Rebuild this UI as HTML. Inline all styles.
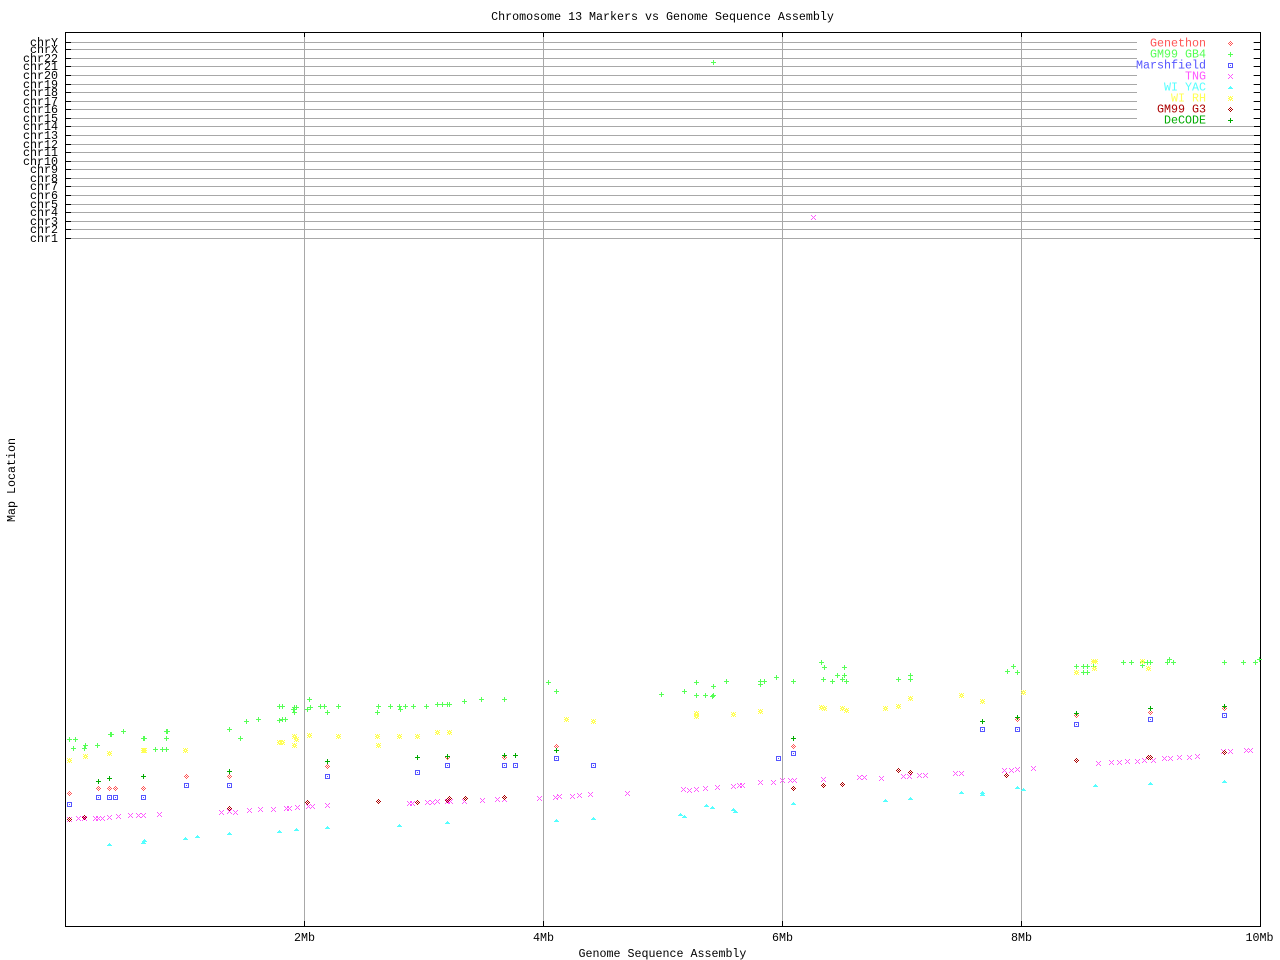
<!DOCTYPE html>
<html><head><meta charset="utf-8"><style>
html,body{margin:0;padding:0;background:#fff;width:1280px;height:960px;overflow:hidden}
svg{display:block}
text{font-family:"Liberation Mono","DejaVu Sans Mono",monospace;font-size:11.67px}
</style></head><body>
<svg width="1280" height="960" viewBox="0 0 1280 960" xmlns="http://www.w3.org/2000/svg" xmlns:xlink="http://www.w3.org/1999/xlink" shape-rendering="crispEdges">
<defs>
<g id="pl"><rect x="-2" y="0" width="5" height="1"/><rect x="0" y="-2" width="1" height="5"/></g>
<g id="xx"><rect x="-2" y="-2" width="1" height="1"/><rect x="-1" y="-1" width="1" height="1"/><rect x="0" y="0" width="1" height="1"/><rect x="1" y="1" width="1" height="1"/><rect x="2" y="2" width="1" height="1"/><rect x="2" y="-2" width="1" height="1"/><rect x="1" y="-1" width="1" height="1"/><rect x="-1" y="1" width="1" height="1"/><rect x="-2" y="2" width="1" height="1"/></g>
<g id="sq"><rect x="-2" y="-2" width="5" height="1"/><rect x="-2" y="2" width="5" height="1"/><rect x="-2" y="-1" width="1" height="3"/><rect x="2" y="-1" width="1" height="3"/><rect x="0" y="0" width="1" height="1"/></g>
<g id="dm"><rect x="0" y="-2" width="1" height="1"/><rect x="-1" y="-1" width="1" height="1"/><rect x="1" y="-1" width="1" height="1"/><rect x="-2" y="0" width="1" height="1"/><rect x="0" y="0" width="1" height="1"/><rect x="2" y="0" width="1" height="1"/><rect x="-1" y="1" width="1" height="1"/><rect x="1" y="1" width="1" height="1"/><rect x="0" y="2" width="1" height="1"/></g>
<g id="tr"><rect x="0" y="-1" width="1" height="1"/><rect x="-1" y="0" width="3" height="1"/><rect x="-2" y="1" width="5" height="1"/></g>
<g id="st"><rect x="-2" y="-2" width="1" height="1"/><rect x="0" y="-2" width="1" height="1"/><rect x="2" y="-2" width="1" height="1"/><rect x="-1" y="-1" width="3" height="1"/><rect x="-2" y="0" width="2" height="1"/><rect x="1" y="0" width="2" height="1"/><rect x="-1" y="1" width="3" height="1"/><rect x="-2" y="2" width="1" height="1"/><rect x="0" y="2" width="1" height="1"/><rect x="2" y="2" width="1" height="1"/></g>
</defs>

<!-- title -->
<text x="662.5" y="20" text-anchor="middle" fill="#000">Chromosome 13 Markers vs Genome Sequence Assembly</text>

<!-- horizontal grid -->
<g fill="#a8a8a8">
<rect x="66" y="42" width="1194" height="1"/><rect x="66" y="49" width="1194" height="1"/><rect x="66" y="58" width="1194" height="1"/><rect x="66" y="66" width="1194" height="1"/><rect x="66" y="75" width="1194" height="1"/><rect x="66" y="84" width="1194" height="1"/><rect x="66" y="92" width="1194" height="1"/><rect x="66" y="101" width="1194" height="1"/><rect x="66" y="109" width="1194" height="1"/><rect x="66" y="118" width="1194" height="1"/><rect x="66" y="126" width="1194" height="1"/><rect x="66" y="135" width="1194" height="1"/><rect x="66" y="144" width="1194" height="1"/><rect x="66" y="152" width="1194" height="1"/><rect x="66" y="161" width="1194" height="1"/><rect x="66" y="169" width="1194" height="1"/><rect x="66" y="178" width="1194" height="1"/><rect x="66" y="186" width="1194" height="1"/><rect x="66" y="195" width="1194" height="1"/><rect x="66" y="204" width="1194" height="1"/><rect x="66" y="212" width="1194" height="1"/><rect x="66" y="221" width="1194" height="1"/><rect x="66" y="229" width="1194" height="1"/><rect x="66" y="238" width="1194" height="1"/>
<!-- vertical grid -->
<rect x="304" y="33" width="1" height="893"/><rect x="543" y="33" width="1" height="893"/><rect x="782" y="33" width="1" height="893"/><rect x="1021" y="33" width="1" height="893"/>
</g>

<!-- legend box (white) -->
<rect x="1137" y="36" width="116" height="88" fill="#fff"/>

<!-- ticks -->
<g fill="#000">
<rect x="66" y="42" width="5" height="1"/><rect x="66" y="49" width="5" height="1"/><rect x="66" y="58" width="5" height="1"/><rect x="66" y="66" width="5" height="1"/><rect x="66" y="75" width="5" height="1"/><rect x="66" y="84" width="5" height="1"/><rect x="66" y="92" width="5" height="1"/><rect x="66" y="101" width="5" height="1"/><rect x="66" y="109" width="5" height="1"/><rect x="66" y="118" width="5" height="1"/><rect x="66" y="126" width="5" height="1"/><rect x="66" y="135" width="5" height="1"/><rect x="66" y="144" width="5" height="1"/><rect x="66" y="152" width="5" height="1"/><rect x="66" y="161" width="5" height="1"/><rect x="66" y="169" width="5" height="1"/><rect x="66" y="178" width="5" height="1"/><rect x="66" y="186" width="5" height="1"/><rect x="66" y="195" width="5" height="1"/><rect x="66" y="204" width="5" height="1"/><rect x="66" y="212" width="5" height="1"/><rect x="66" y="221" width="5" height="1"/><rect x="66" y="229" width="5" height="1"/><rect x="66" y="238" width="5" height="1"/>
<rect x="1254" y="42" width="6" height="1"/><rect x="1254" y="49" width="6" height="1"/><rect x="1254" y="58" width="6" height="1"/><rect x="1254" y="66" width="6" height="1"/><rect x="1254" y="75" width="6" height="1"/><rect x="1254" y="84" width="6" height="1"/><rect x="1254" y="92" width="6" height="1"/><rect x="1254" y="101" width="6" height="1"/><rect x="1254" y="109" width="6" height="1"/><rect x="1254" y="118" width="6" height="1"/><rect x="1254" y="126" width="6" height="1"/><rect x="1254" y="135" width="6" height="1"/><rect x="1254" y="144" width="6" height="1"/><rect x="1254" y="152" width="6" height="1"/><rect x="1254" y="161" width="6" height="1"/><rect x="1254" y="169" width="6" height="1"/><rect x="1254" y="178" width="6" height="1"/><rect x="1254" y="186" width="6" height="1"/><rect x="1254" y="195" width="6" height="1"/><rect x="1254" y="204" width="6" height="1"/><rect x="1254" y="212" width="6" height="1"/><rect x="1254" y="221" width="6" height="1"/><rect x="1254" y="229" width="6" height="1"/><rect x="1254" y="238" width="6" height="1"/>
<rect x="304" y="33" width="1" height="4"/><rect x="543" y="33" width="1" height="4"/><rect x="782" y="33" width="1" height="4"/><rect x="1021" y="33" width="1" height="4"/>
<rect x="304" y="921" width="1" height="5"/><rect x="543" y="921" width="1" height="5"/><rect x="782" y="921" width="1" height="5"/><rect x="1021" y="921" width="1" height="5"/>
<!-- frame -->
<rect x="65" y="32" width="1196" height="1"/><rect x="65" y="926" width="1196" height="1"/><rect x="65" y="32" width="1" height="895"/><rect x="1260" y="32" width="1" height="895"/>
</g>

<!-- y labels -->
<g fill="#000" text-anchor="end">
<text x="58" y="46">chrY</text><text x="58" y="53">chrX</text><text x="58" y="62">chr22</text><text x="58" y="70">chr21</text><text x="58" y="79">chr20</text><text x="58" y="88">chr19</text><text x="58" y="96">chr18</text><text x="58" y="105">chr17</text><text x="58" y="113">chr16</text><text x="58" y="122">chr15</text><text x="58" y="130">chr14</text><text x="58" y="139">chr13</text><text x="58" y="148">chr12</text><text x="58" y="156">chr11</text><text x="58" y="165">chr10</text><text x="58" y="173">chr9</text><text x="58" y="182">chr8</text><text x="58" y="190">chr7</text><text x="58" y="199">chr6</text><text x="58" y="208">chr5</text><text x="58" y="216">chr4</text><text x="58" y="225">chr3</text><text x="58" y="233">chr2</text><text x="58" y="242">chr1</text>
</g>

<!-- x labels -->
<g fill="#000" text-anchor="middle">
<text x="304.5" y="941">2Mb</text><text x="543.5" y="941">4Mb</text><text x="782.5" y="941">6Mb</text><text x="1021.5" y="941">8Mb</text><text x="1259.5" y="941">10Mb</text>
<text x="662.5" y="957">Genome Sequence Assembly</text>
</g>
<text transform="translate(15,480) rotate(-90)" text-anchor="middle" fill="#000">Map Location</text>

<!-- legend -->
<g text-anchor="end">
<text x="1206" y="46.5" fill="#ff5555">Genethon</text>
<text x="1206" y="57.5" fill="#55ff55">GM99 GB4</text>
<text x="1206" y="68.5" fill="#5555ff">Marshfield</text>
<text x="1206" y="79.5" fill="#ff55ff">TNG</text>
<text x="1206" y="90.5" fill="#55ffff">WI YAC</text>
<text x="1206" y="101.5" fill="#ffff55">WI RH</text>
<text x="1206" y="112.5" fill="#aa0000">GM99 G3</text>
<text x="1206" y="123.5" fill="#00aa00">DeCODE</text>
</g>
<use href="#dm" x="1230" y="43" fill="#ff5555"/>
<use href="#pl" x="1230" y="54" fill="#55ff55"/>
<use href="#sq" x="1230" y="65" fill="#5555ff"/>
<use href="#xx" x="1230" y="76" fill="#ff55ff"/>
<use href="#tr" x="1230" y="87" fill="#55ffff"/>
<use href="#st" x="1230" y="98" fill="#ffff55"/>
<use href="#dm" x="1230" y="109" fill="#aa0000"/>
<use href="#pl" x="1230" y="120" fill="#00aa00"/>

<!-- Genethon -->
<g fill="#ff5555">
<use href="#dm" x="69" y="793"/><use href="#dm" x="98" y="788"/><use href="#dm" x="109" y="788"/><use href="#dm" x="115" y="788"/><use href="#dm" x="143" y="788"/><use href="#dm" x="186" y="776"/><use href="#dm" x="229" y="776"/><use href="#dm" x="327" y="766"/><use href="#dm" x="447" y="757"/><use href="#dm" x="504" y="757"/><use href="#dm" x="556" y="746"/><use href="#dm" x="793" y="746"/><use href="#dm" x="1017" y="719"/><use href="#dm" x="1076" y="715"/><use href="#dm" x="1150" y="712"/><use href="#dm" x="1224" y="708"/>
</g>

<!-- GM99 GB4 -->
<g fill="#55ff55">
<use href="#pl" x="69" y="739"/><use href="#pl" x="75" y="739"/><use href="#pl" x="73" y="748"/><use href="#pl" x="84" y="748"/><use href="#pl" x="85" y="745"/><use href="#pl" x="97" y="745"/><use href="#pl" x="110" y="734"/><use href="#pl" x="111" y="734"/><use href="#pl" x="123" y="731"/><use href="#pl" x="143" y="738"/><use href="#pl" x="144" y="738"/><use href="#pl" x="166" y="731"/><use href="#pl" x="167" y="731"/><use href="#pl" x="166" y="738"/><use href="#pl" x="155" y="749"/><use href="#pl" x="162" y="749"/><use href="#pl" x="166" y="749"/><use href="#pl" x="229" y="729"/><use href="#pl" x="240" y="738"/><use href="#pl" x="246" y="721"/><use href="#pl" x="258" y="719"/><use href="#pl" x="279" y="706"/><use href="#pl" x="282" y="706"/><use href="#pl" x="279" y="720"/><use href="#pl" x="285" y="719"/><use href="#pl" x="282" y="719"/><use href="#pl" x="294" y="707"/><use href="#pl" x="296" y="707"/><use href="#pl" x="293" y="709"/><use href="#pl" x="294" y="712"/><use href="#pl" x="309" y="699"/><use href="#pl" x="310" y="707"/><use href="#pl" x="307" y="709"/><use href="#pl" x="320" y="706"/><use href="#pl" x="324" y="706"/><use href="#pl" x="327" y="712"/><use href="#pl" x="338" y="706"/><use href="#pl" x="378" y="706"/><use href="#pl" x="377" y="712"/><use href="#pl" x="390" y="706"/><use href="#pl" x="399" y="706"/><use href="#pl" x="400" y="709"/><use href="#pl" x="405" y="706"/><use href="#pl" x="413" y="706"/><use href="#pl" x="426" y="706"/><use href="#pl" x="437" y="704"/><use href="#pl" x="442" y="704"/><use href="#pl" x="447" y="704"/><use href="#pl" x="449" y="704"/><use href="#pl" x="464" y="701"/><use href="#pl" x="481" y="699"/><use href="#pl" x="504" y="699"/><use href="#pl" x="548" y="682"/><use href="#pl" x="556" y="691"/><use href="#pl" x="661" y="694"/><use href="#pl" x="684" y="691"/><use href="#pl" x="696" y="682"/><use href="#pl" x="696" y="695"/><use href="#pl" x="705" y="695"/><use href="#pl" x="713" y="686"/><use href="#pl" x="712" y="696"/><use href="#pl" x="713" y="695"/><use href="#pl" x="726" y="681"/><use href="#pl" x="760" y="681"/><use href="#pl" x="760" y="684"/><use href="#pl" x="764" y="681"/><use href="#pl" x="776" y="677"/><use href="#pl" x="793" y="681"/><use href="#pl" x="821" y="662"/><use href="#pl" x="824" y="667"/><use href="#pl" x="844" y="667"/><use href="#pl" x="837" y="675"/><use href="#pl" x="844" y="675"/><use href="#pl" x="823" y="679"/><use href="#pl" x="832" y="681"/><use href="#pl" x="842" y="679"/><use href="#pl" x="846" y="681"/><use href="#pl" x="898" y="679"/><use href="#pl" x="910" y="675"/><use href="#pl" x="910" y="679"/><use href="#pl" x="1013" y="666"/><use href="#pl" x="1007" y="671"/><use href="#pl" x="1017" y="672"/><use href="#pl" x="1076" y="666"/><use href="#pl" x="1083" y="666"/><use href="#pl" x="1087" y="666"/><use href="#pl" x="1093" y="666"/><use href="#pl" x="1083" y="672"/><use href="#pl" x="1087" y="672"/><use href="#pl" x="1123" y="662"/><use href="#pl" x="1131" y="662"/><use href="#pl" x="1142" y="662"/><use href="#pl" x="1142" y="665"/><use href="#pl" x="1147" y="662"/><use href="#pl" x="1150" y="662"/><use href="#pl" x="1169" y="659"/><use href="#pl" x="1167" y="662"/><use href="#pl" x="1173" y="662"/><use href="#pl" x="1224" y="662"/><use href="#pl" x="1243" y="662"/><use href="#pl" x="1255" y="662"/><use href="#pl" x="1259" y="659"/><use href="#pl" x="713" y="62"/>
</g>

<!-- Marshfield -->
<g fill="#5555ff">
<use href="#sq" x="69" y="804"/><use href="#sq" x="98" y="797"/><use href="#sq" x="109" y="797"/><use href="#sq" x="115" y="797"/><use href="#sq" x="143" y="797"/><use href="#sq" x="186" y="785"/><use href="#sq" x="229" y="785"/><use href="#sq" x="327" y="776"/><use href="#sq" x="417" y="772"/><use href="#sq" x="447" y="765"/><use href="#sq" x="504" y="765"/><use href="#sq" x="515" y="765"/><use href="#sq" x="556" y="758"/><use href="#sq" x="593" y="765"/><use href="#sq" x="778" y="758"/><use href="#sq" x="793" y="753"/><use href="#sq" x="982" y="729"/><use href="#sq" x="1017" y="729"/><use href="#sq" x="1076" y="724"/><use href="#sq" x="1150" y="719"/><use href="#sq" x="1224" y="715"/>
</g>

<!-- TNG -->
<g fill="#ff55ff">
<use href="#xx" x="69" y="819"/><use href="#xx" x="78" y="818"/><use href="#xx" x="84" y="818"/><use href="#xx" x="95" y="818"/><use href="#xx" x="98" y="818"/><use href="#xx" x="102" y="818"/><use href="#xx" x="109" y="817"/><use href="#xx" x="118" y="816"/><use href="#xx" x="130" y="815"/><use href="#xx" x="138" y="815"/><use href="#xx" x="143" y="815"/><use href="#xx" x="159" y="814"/><use href="#xx" x="221" y="812"/><use href="#xx" x="229" y="811"/><use href="#xx" x="235" y="812"/><use href="#xx" x="249" y="810"/><use href="#xx" x="260" y="809"/><use href="#xx" x="273" y="809"/><use href="#xx" x="286" y="808"/><use href="#xx" x="289" y="808"/><use href="#xx" x="297" y="807"/><use href="#xx" x="308" y="806"/><use href="#xx" x="312" y="806"/><use href="#xx" x="327" y="805"/><use href="#xx" x="409" y="803"/><use href="#xx" x="412" y="803"/><use href="#xx" x="427" y="802"/><use href="#xx" x="432" y="802"/><use href="#xx" x="437" y="801"/><use href="#xx" x="447" y="801"/><use href="#xx" x="450" y="801"/><use href="#xx" x="464" y="801"/><use href="#xx" x="482" y="800"/><use href="#xx" x="497" y="799"/><use href="#xx" x="504" y="799"/><use href="#xx" x="539" y="798"/><use href="#xx" x="555" y="797"/><use href="#xx" x="559" y="796"/><use href="#xx" x="572" y="796"/><use href="#xx" x="579" y="795"/><use href="#xx" x="590" y="794"/><use href="#xx" x="627" y="793"/><use href="#xx" x="683" y="789"/><use href="#xx" x="689" y="790"/><use href="#xx" x="696" y="789"/><use href="#xx" x="705" y="788"/><use href="#xx" x="717" y="787"/><use href="#xx" x="733" y="786"/><use href="#xx" x="739" y="785"/><use href="#xx" x="742" y="785"/><use href="#xx" x="760" y="782"/><use href="#xx" x="773" y="782"/><use href="#xx" x="782" y="780"/><use href="#xx" x="790" y="780"/><use href="#xx" x="794" y="780"/><use href="#xx" x="823" y="779"/><use href="#xx" x="859" y="777"/><use href="#xx" x="864" y="777"/><use href="#xx" x="881" y="778"/><use href="#xx" x="903" y="776"/><use href="#xx" x="909" y="776"/><use href="#xx" x="919" y="775"/><use href="#xx" x="925" y="775"/><use href="#xx" x="955" y="773"/><use href="#xx" x="961" y="773"/><use href="#xx" x="1004" y="770"/><use href="#xx" x="1011" y="770"/><use href="#xx" x="1017" y="769"/><use href="#xx" x="1033" y="768"/><use href="#xx" x="1098" y="763"/><use href="#xx" x="1111" y="762"/><use href="#xx" x="1119" y="762"/><use href="#xx" x="1127" y="761"/><use href="#xx" x="1137" y="761"/><use href="#xx" x="1144" y="760"/><use href="#xx" x="1153" y="760"/><use href="#xx" x="1164" y="758"/><use href="#xx" x="1170" y="758"/><use href="#xx" x="1179" y="757"/><use href="#xx" x="1189" y="757"/><use href="#xx" x="1197" y="756"/><use href="#xx" x="1223" y="751"/><use href="#xx" x="1230" y="751"/><use href="#xx" x="1246" y="750"/><use href="#xx" x="1250" y="750"/><use href="#xx" x="813" y="217"/>
</g>

<!-- WI YAC -->
<g fill="#55ffff">
<use href="#tr" x="109" y="844"/><use href="#tr" x="143" y="842"/><use href="#tr" x="144" y="840"/><use href="#tr" x="185" y="838"/><use href="#tr" x="197" y="836"/><use href="#tr" x="229" y="833"/><use href="#tr" x="279" y="831"/><use href="#tr" x="296" y="829"/><use href="#tr" x="327" y="827"/><use href="#tr" x="399" y="825"/><use href="#tr" x="447" y="822"/><use href="#tr" x="556" y="820"/><use href="#tr" x="593" y="818"/><use href="#tr" x="680" y="814"/><use href="#tr" x="684" y="816"/><use href="#tr" x="706" y="805"/><use href="#tr" x="712" y="807"/><use href="#tr" x="733" y="809"/><use href="#tr" x="735" y="811"/><use href="#tr" x="793" y="803"/><use href="#tr" x="885" y="800"/><use href="#tr" x="910" y="798"/><use href="#tr" x="961" y="792"/><use href="#tr" x="982" y="794"/><use href="#tr" x="982" y="792"/><use href="#tr" x="1017" y="787"/><use href="#tr" x="1023" y="789"/><use href="#tr" x="1095" y="785"/><use href="#tr" x="1150" y="783"/><use href="#tr" x="1224" y="781"/>
</g>

<!-- WI RH -->
<g fill="#ffff55">
<use href="#st" x="69" y="760"/><use href="#st" x="85" y="756"/><use href="#st" x="109" y="753"/><use href="#st" x="143" y="750"/><use href="#st" x="144" y="750"/><use href="#st" x="185" y="750"/><use href="#st" x="279" y="742"/><use href="#st" x="282" y="742"/><use href="#st" x="294" y="736"/><use href="#st" x="296" y="739"/><use href="#st" x="294" y="745"/><use href="#st" x="309" y="735"/><use href="#st" x="338" y="736"/><use href="#st" x="377" y="736"/><use href="#st" x="378" y="745"/><use href="#st" x="399" y="736"/><use href="#st" x="417" y="736"/><use href="#st" x="437" y="732"/><use href="#st" x="449" y="732"/><use href="#st" x="566" y="719"/><use href="#st" x="593" y="721"/><use href="#st" x="696" y="713"/><use href="#st" x="696" y="716"/><use href="#st" x="733" y="714"/><use href="#st" x="760" y="711"/><use href="#st" x="821" y="707"/><use href="#st" x="824" y="708"/><use href="#st" x="842" y="708"/><use href="#st" x="846" y="710"/><use href="#st" x="885" y="708"/><use href="#st" x="898" y="706"/><use href="#st" x="910" y="698"/><use href="#st" x="961" y="695"/><use href="#st" x="982" y="701"/><use href="#st" x="1023" y="692"/><use href="#st" x="1076" y="672"/><use href="#st" x="1093" y="661"/><use href="#st" x="1095" y="661"/><use href="#st" x="1094" y="668"/><use href="#st" x="1142" y="661"/><use href="#st" x="1148" y="668"/>
</g>

<!-- GM99 G3 -->
<g fill="#aa0000">
<use href="#dm" x="69" y="819"/><use href="#dm" x="84" y="817"/><use href="#dm" x="229" y="808"/><use href="#dm" x="307" y="802"/><use href="#dm" x="378" y="801"/><use href="#dm" x="417" y="802"/><use href="#dm" x="449" y="798"/><use href="#dm" x="447" y="800"/><use href="#dm" x="465" y="798"/><use href="#dm" x="504" y="797"/><use href="#dm" x="793" y="788"/><use href="#dm" x="823" y="785"/><use href="#dm" x="842" y="784"/><use href="#dm" x="898" y="770"/><use href="#dm" x="910" y="772"/><use href="#dm" x="1006" y="775"/><use href="#dm" x="1076" y="760"/><use href="#dm" x="1148" y="757"/><use href="#dm" x="1150" y="757"/><use href="#dm" x="1224" y="752"/>
</g>

<!-- DeCODE -->
<g fill="#00aa00">
<use href="#pl" x="98" y="781"/><use href="#pl" x="109" y="778"/><use href="#pl" x="143" y="776"/><use href="#pl" x="229" y="771"/><use href="#pl" x="327" y="761"/><use href="#pl" x="417" y="757"/><use href="#pl" x="447" y="756"/><use href="#pl" x="504" y="755"/><use href="#pl" x="515" y="755"/><use href="#pl" x="556" y="750"/><use href="#pl" x="793" y="738"/><use href="#pl" x="982" y="721"/><use href="#pl" x="1017" y="717"/><use href="#pl" x="1076" y="713"/><use href="#pl" x="1150" y="708"/><use href="#pl" x="1224" y="706"/>
</g>
</svg>
</body></html>
